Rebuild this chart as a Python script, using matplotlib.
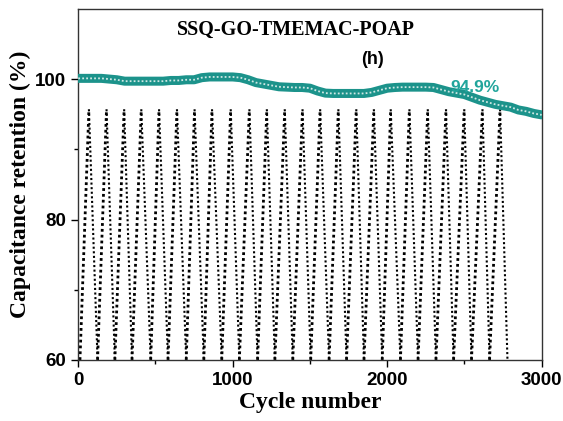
import matplotlib
matplotlib.use("Agg")
import matplotlib.pyplot as plt
import numpy as np

# capacitance retention (%) every 50 cycles
cycles = [0, 50, 100, 150, 200, 250, 300, 350, 400, 450, 500, 550, 600, 650, 700,
          750, 800, 850, 900, 950, 1000, 1050, 1100, 1150, 1200, 1250, 1300, 1350,
          1400, 1450, 1500, 1550, 1600, 1650, 1700, 1750, 1800, 1850, 1900, 1950,
          2000, 2050, 2100, 2150, 2200, 2250, 2300, 2350, 2400, 2450, 2500, 2550,
          2600, 2650, 2700, 2750, 2800, 2850, 2900, 2950, 3000]
retention = [100.1, 100.1, 100.1, 100.1, 100.0, 99.9, 99.7, 99.7, 99.7, 99.7, 99.7,
             99.7, 99.8, 99.8, 99.9, 99.9, 100.2, 100.3, 100.3, 100.3, 100.3, 100.2,
             99.9, 99.5, 99.3, 99.1, 98.9, 98.85, 98.8, 98.8, 98.7, 98.3, 98.0, 97.95,
             97.95, 97.95, 97.95, 97.95, 98.1, 98.4, 98.7, 98.8, 98.85, 98.85, 98.85,
             98.85, 98.8, 98.5, 98.2, 98.0, 97.8, 97.4, 97.0, 96.7, 96.4, 96.2, 96.0,
             95.6, 95.4, 95.1, 94.9]

# charge/discharge profile: turning points (cycle axis) and upper level
gcd_low = [11, 125, 237, 348, 469, 581, 699, 813, 929, 1043, 1161, 1273, 1389,
           1505, 1624, 1737, 1850, 1968, 2086, 2200, 2316, 2430, 2546, 2663, 2779]
gcd_high = [69, 183, 297, 408, 523, 639, 753, 866, 987, 1108, 1221, 1337, 1452,
            1566, 1684, 1800, 1914, 2023, 2144, 2263, 2381, 2499, 2617, 2731]
gcd_top = 95.7
gcd_base = 60

teal = '#1c938b'

fig = plt.figure(figsize=(5.63, 4.21), dpi=100)
ax = fig.add_axes([0.139, 0.145, 0.823, 0.834])

for k in range(len(gcd_high)):
    ax.plot([gcd_low[k], gcd_high[k]], [gcd_base, gcd_top], color='black',
            lw=2.0, linestyle=(0, (1, 1.1)), zorder=2)
    ax.plot([gcd_high[k], gcd_low[k + 1]], [gcd_top, gcd_base], color='black',
            lw=1.5, linestyle=(0, (1, 1.2)), zorder=2)

ax.plot(cycles, retention, color=teal, lw=6.5, solid_capstyle='round', zorder=3)
ax.plot(cycles, retention, color='#cfe8e4', lw=1.3, linestyle=(0, (1, 1.2)), zorder=4)

ax.set_xlim(0, 3000)
ax.set_ylim(60, 110)
ax.set_xticks([0, 1000, 2000, 3000])
ax.set_xticks([500, 1500, 2500], minor=True)
ax.set_yticks([60, 80, 100])
ax.set_yticks([70, 90], minor=True)
ax.tick_params(which='major', direction='out', length=5, width=1, labelsize=13.5)
ax.tick_params(which='minor', direction='out', length=3, width=1)
for lab in ax.get_xticklabels() + ax.get_yticklabels():
    lab.set_fontweight('bold')
    lab.set_fontfamily('Liberation Sans')
for s in ax.spines.values():
    s.set_linewidth(1.0)
    s.set_color('#333333')

ax.set_xlabel('Cycle number', fontsize=17, fontweight='bold',
              family='Liberation Serif', labelpad=2)
ax.set_ylabel('Capacitance retention (%)', fontsize=17, fontweight='bold',
              family='Liberation Serif', labelpad=3)

ax.text(0.47, 0.94, 'SSQ-GO-TMEMAC-POAP', transform=ax.transAxes, ha='center',
        va='center', fontsize=14.5, fontweight='bold', family='Liberation Serif')
ax.text(0.635, 0.855, '(h)', transform=ax.transAxes, ha='center', va='center',
        fontsize=13, fontweight='bold', family='Liberation Sans')
ax.text(2570, 98.8, '94.9%', ha='center', va='center', fontsize=12.5,
        fontweight='bold', color='#22a59c', family='Liberation Sans')

fig.savefig('out.png', dpi=100)
